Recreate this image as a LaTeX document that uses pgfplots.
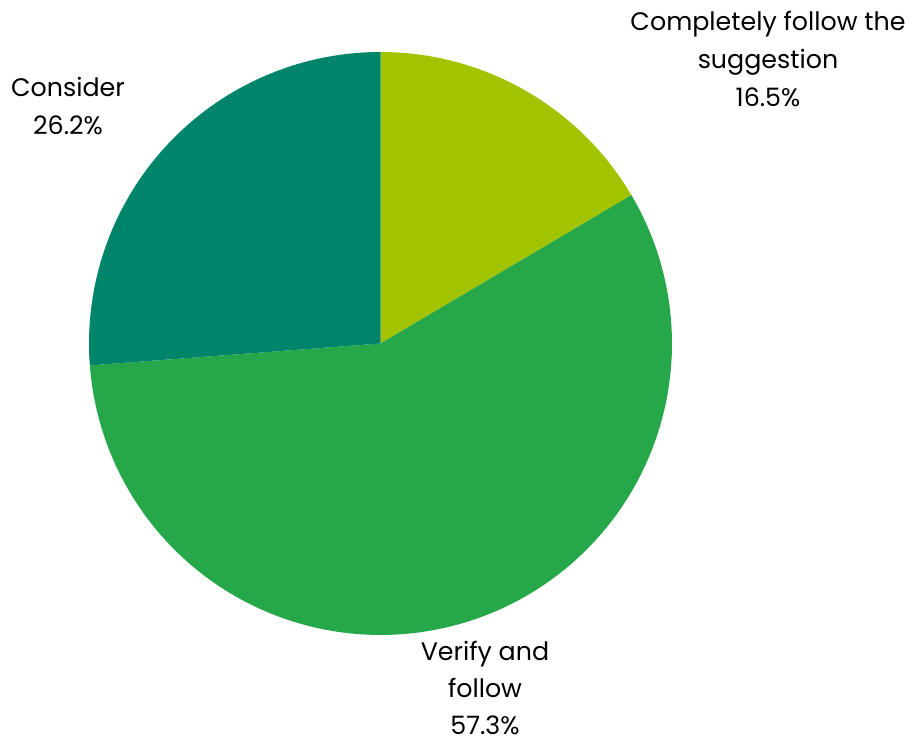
\documentclass[border=0pt]{standalone}
\usepackage{pgfplots}
\pgfplotsset{compat=1.18}
\usepackage{fontspec}
\setmainfont{Poppins}
\definecolor{cA}{HTML}{A2C400}
\definecolor{cB}{HTML}{26A84A}
\definecolor{cC}{HTML}{00856A}
\begin{document}
\begin{tikzpicture}
\def\vA{16.5}\def\vB{57.3}\def\vC{26.2}
\pgfmathsetmacro\aA{90}
\pgfmathsetmacro\aB{90-\vA*3.6}
\pgfmathsetmacro\aC{90-(\vA+\vB)*3.6}
\pgfmathsetmacro\aD{90-(\vA+\vB+\vC)*3.6}
\begin{axis}[
  x=0.75pt, y=0.75pt,
  xmin=0, xmax=913, ymin=-741, ymax=0,
  hide axis, clip=false,
  scale only axis,
]
\path[draw=none] (axis cs:0,0) rectangle (axis cs:913,-741);
\addplot[fill=cA, draw=none, domain=\aB:\aA, samples=60] ({380.5+291.5*cos(x)},{-343.5+291.5*sin(x)}) -- (axis cs:380.5,-343.5) -- cycle;
\addplot[fill=cB, draw=none, domain=\aC:\aB, samples=120] ({380.5+291.5*cos(x)},{-343.5+291.5*sin(x)}) -- (axis cs:380.5,-343.5) -- cycle;
\addplot[fill=cC, draw=none, domain=\aD:\aC, samples=80] ({380.5+291.5*cos(x)},{-343.5+291.5*sin(x)}) -- (axis cs:380.5,-343.5) -- cycle;
\node[align=center, inner sep=0pt, font=\fontsize{19}{28.5}\selectfont] at (axis cs:768,-59) {Completely follow the\\suggestion\\16.5\%};
\node[align=center, inner sep=0pt, font=\fontsize{19}{28.5}\selectfont] at (axis cs:68,-106) {Consider\\26.2\%};
\node[align=center, inner sep=0pt, font=\fontsize{19}{28}\selectfont] at (axis cs:485,-688) {Verify and\\follow\\57.3\%};
\end{axis}
\end{tikzpicture}
\end{document}
